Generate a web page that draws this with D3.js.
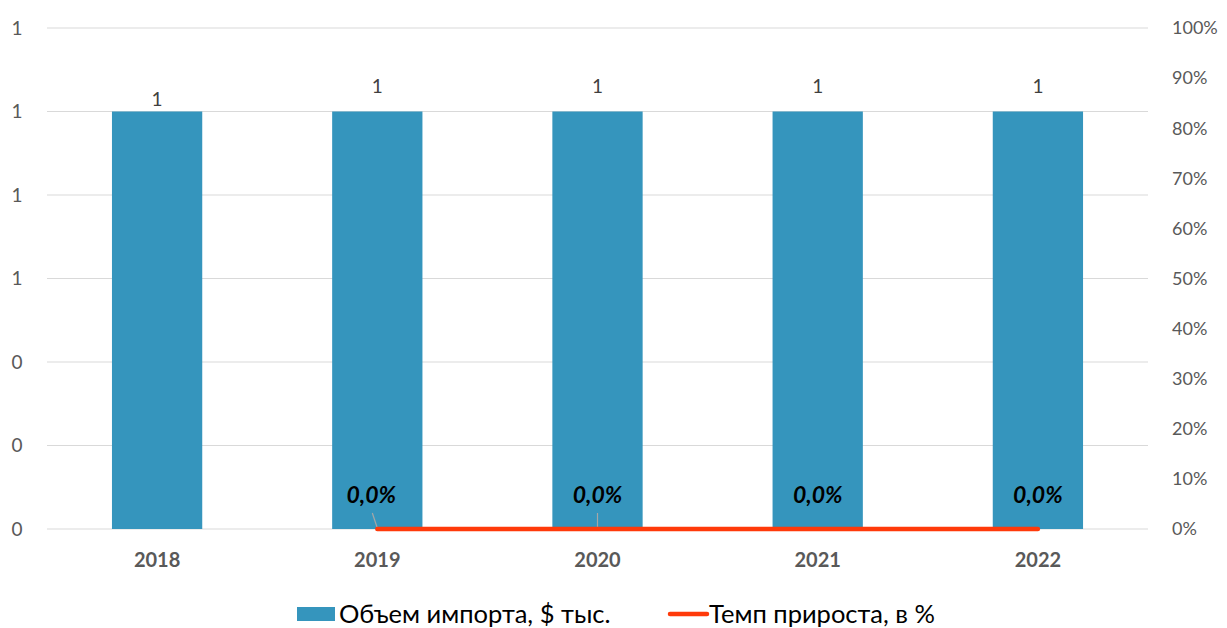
<!DOCTYPE html>
<html>
<head>
<meta charset="utf-8">
<script src="https://cdn.jsdelivr.net/npm/d3@7"></script>
<style>
  body { margin: 0; background: #fff; }
  text { font-family: Lato, "Open Sans", sans-serif; }
</style>
</head>
<body>
<script>
// Data
const years = ["2018", "2019", "2020", "2021", "2022"];
const importVolume = [1, 1, 1, 1, 1];
const growthYears = ["2019", "2020", "2021", "2022"];
const growthRate = [0, 0, 0, 0];
const leftTicks = [0, 0.2, 0.4, 0.6, 0.8, 1.0, 1.2];
const rightTicks = [0, 0.1, 0.2, 0.3, 0.4, 0.5, 0.6, 0.7, 0.8, 0.9, 1.0];

// Dimensions
const W = 1227, H = 628;
const margin = { top: 28, right: 79, bottom: 99, left: 47 };
const width = W - margin.left - margin.right;
const height = H - margin.top - margin.bottom;

const svg = d3.select("body")
    .append("svg")
    .attr("width", W)
    .attr("height", H);

const g = svg.append("g")
    .attr("transform", `translate(${margin.left},${margin.top})`);

const x = d3.scaleBand().domain(years).range([0, width]).paddingInner(0.59).paddingOuter(0.295);
const yL = d3.scaleLinear().domain([0, 1.2]).range([height, 0]);
const yR = d3.scaleLinear().domain([0, 1]).range([height, 0]);
const cx = d => x(d) + x.bandwidth() / 2;

// gridlines
g.selectAll(".grid")
    .data(leftTicks)
    .enter().append("line")
    .attr("x1", 0).attr("x2", width)
    .attr("y1", d => yL(d)).attr("y2", d => yL(d))
    .attr("stroke", "#d9d9d9").attr("stroke-width", 1);

// left axis labels
g.selectAll(".ltick")
    .data(leftTicks)
    .enter().append("text")
    .attr("x", -30).attr("y", d => yL(d)).attr("dy", "0.35em")
    .attr("text-anchor", "middle")
    .attr("font-size", 19).attr("fill", "#595959")
    .text(d => d3.format(".0f")(d));

// right axis labels
g.selectAll(".rtick")
    .data(rightTicks)
    .enter().append("text")
    .attr("x", width + 24).attr("y", d => yR(d)).attr("dy", "0.35em")
    .attr("font-size", 18).attr("fill", "#595959")
    .text(d => d3.format(".0%")(d));

// bars
g.selectAll(".bar")
    .data(importVolume)
    .enter().append("rect")
    .attr("x", (d, i) => x(years[i]))
    .attr("width", x.bandwidth())
    .attr("y", d => yL(d))
    .attr("height", d => height - yL(d))
    .attr("fill", "#3595bd");

// bar labels
g.selectAll(".blabel")
    .data(importVolume)
    .enter().append("text")
    .attr("x", (d, i) => cx(years[i]))
    .attr("y", (d, i) => yL(d) - (i === 0 ? 6 : 19))
    .attr("text-anchor", "middle")
    .attr("font-size", 19).attr("fill", "#404040")
    .text(d => d3.format(".0f")(d));

// x labels
g.selectAll(".xlabel")
    .data(years)
    .enter().append("text")
    .attr("x", d => cx(d)).attr("y", height + 38)
    .attr("text-anchor", "middle")
    .attr("font-size", 20).attr("font-weight", "bold").attr("fill", "#595959")
    .text(d => d);

// leader lines for first two labels
const leaders = [{ dx: -5, i: 0 }, { dx: 0, i: 1 }];
g.selectAll(".leader")
    .data(leaders)
    .enter().append("line")
    .attr("x1", d => cx(growthYears[d.i]) + d.dx)
    .attr("y1", yR(0) - 16)
    .attr("x2", d => cx(growthYears[d.i]))
    .attr("y2", yR(0) - 1)
    .attr("stroke", "#a6a6a6").attr("stroke-width", 1.2);

// growth line
const line = d3.line().x((d, i) => cx(growthYears[i])).y(d => yR(d));
g.append("path")
    .datum(growthRate)
    .attr("d", line)
    .attr("fill", "none")
    .attr("stroke", "#ff3a0a")
    .attr("stroke-width", 4.5)
    .attr("stroke-linecap", "round");

// growth labels
g.selectAll(".glabel")
    .data(growthRate)
    .enter().append("text")
    .attr("x", (d, i) => cx(growthYears[i]) - (i === 0 ? 6 : 0))
    .attr("y", d => yR(d) - 26)
    .attr("text-anchor", "middle")
    .attr("font-size", 23).attr("font-weight", "bold").attr("font-style", "italic")
    .attr("fill", "#000")
    .text(d => d3.format(".1%")(d).replace(".", ","));

// legend
const lg = svg.append("g").attr("transform", "translate(0,614)");
lg.append("rect").attr("x", 297).attr("y", -7).attr("width", 38).attr("height", 14).attr("fill", "#3595bd");
lg.append("text").attr("x", 339).attr("y", 0).attr("dy", "0.35em")
    .attr("font-size", 25.5).attr("fill", "#000").text("Объем импорта, $ тыс.");
lg.append("line").attr("x1", 670).attr("x2", 707).attr("y1", 0).attr("y2", 0)
    .attr("stroke", "#ff3a0a").attr("stroke-width", 4.5).attr("stroke-linecap", "round");
lg.append("text").attr("x", 709).attr("y", 0).attr("dy", "0.35em")
    .attr("font-size", 25.5).attr("fill", "#000").text("Темп прироста, в %");
</script>
</body>
</html>
